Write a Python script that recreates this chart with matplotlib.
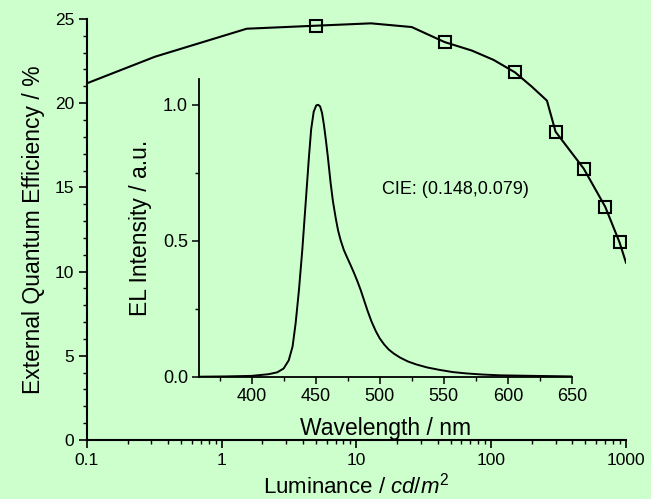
import matplotlib
matplotlib.use("Agg")
import matplotlib.pyplot as plt
from matplotlib.ticker import MultipleLocator, LogLocator, FixedLocator, NullFormatter

plt.rcParams['font.family'] = ['Liberation Sans', 'DejaVu Sans']
plt.rcParams['mathtext.fontset'] = 'custom'
plt.rcParams['mathtext.rm'] = 'Liberation Sans'
plt.rcParams['mathtext.it'] = 'Liberation Sans:italic'

# === EQE vs luminance === #
luminance = [0.1, 0.32, 1.53, 5.0, 12.8, 25.7, 45, 72, 104, 150, 200, 259, 300, 486, 701, 895, 1000]
eqe = [21.18, 22.76, 24.42, 24.60, 24.74, 24.52, 23.63, 23.12, 22.57, 21.83,
       20.98, 20.15, 18.31, 16.11, 13.85, 11.74, 10.53]
marked = [3, 6, 9, 12, 13, 14, 15]

# === EL spectrum === #
wavelength = [359, 380, 400, 413, 420, 425, 429, 432, 434.4, 437, 439.6, 442.2, 444.8,
              446.5, 448.5, 450.5, 452, 453.5, 455, 456.5, 458, 459.5, 461.7, 463.5, 465.6,
              467.5, 469.5, 472, 474.8, 477.5, 480, 482.5, 485.2, 487.8, 490.4, 493.5, 497,
              500, 503.4, 507, 511, 516, 522, 528.6, 537, 546.7, 557, 567.7, 580, 594, 620, 650]
intensity = [0, 0.001, 0.003, 0.009, 0.016, 0.03, 0.06, 0.111, 0.197, 0.32, 0.467, 0.638,
             0.81, 0.91, 0.975, 0.998, 1.0, 0.994, 0.97, 0.925, 0.87, 0.81, 0.712, 0.645, 0.585,
             0.538, 0.502, 0.466, 0.436, 0.408, 0.381, 0.352, 0.318, 0.281, 0.244, 0.204, 0.167,
             0.141, 0.119, 0.1, 0.085, 0.07, 0.056, 0.045, 0.034, 0.025, 0.017, 0.012, 0.008,
             0.005, 0.003, 0.001]
cie_text = "CIE: (0.148,0.079)"

bg = '#ccffcc'
fig = plt.figure(figsize=(6.51, 4.99), dpi=100, facecolor=bg)

ax = fig.add_axes([0.1336, 0.1182, 0.8280, 0.8438], facecolor=bg)
ax.plot(luminance, eqe, color='black', lw=1.5, marker='s', markevery=marked,
        markersize=9, markerfacecolor='none', markeredgecolor='black', markeredgewidth=1.5)
ax.set_xscale('log')
ax.set_xlim(0.1, 1000)
ax.set_ylim(0, 25)
ax.set_xticks([0.1, 1, 10, 100, 1000])
ax.set_xticklabels(['0.1', '1', '10', '100', '1000'])
ax.xaxis.set_minor_locator(LogLocator(base=10, subs=range(2, 10)))
ax.xaxis.set_minor_formatter(NullFormatter())
ax.yaxis.set_major_locator(MultipleLocator(5))
ax.yaxis.set_minor_locator(MultipleLocator(1))
ax.set_xlabel(r'Luminance / $cd/m^2$', fontsize=16, labelpad=4)
ax.set_ylabel('External Quantum Efficiency / %', fontsize=16.5, labelpad=7)
for s in ['top', 'right']:
    ax.spines[s].set_visible(False)
for s in ['left', 'bottom']:
    ax.spines[s].set_linewidth(1.5)
ax.tick_params(which='major', direction='out', length=6, width=1.2, labelsize=12.5, pad=3)
ax.tick_params(which='minor', direction='out', length=3, width=1.0)

# === Inset === #
ins = fig.add_axes([0.3057, 0.2451, 0.5729, 0.5966], facecolor='none')
ins.plot(wavelength, intensity, color='black', lw=1.4)
ins.set_xlim(359, 650)
ins.set_ylim(0, 1.095)
ins.xaxis.set_major_locator(FixedLocator([400, 450, 500, 550, 600, 650]))
ins.xaxis.set_minor_locator(MultipleLocator(25))
ins.yaxis.set_major_locator(FixedLocator([0, 0.5, 1.0]))
ins.yaxis.set_minor_locator(FixedLocator([0.25, 0.75]))
ins.set_yticklabels(['0.0', '0.5', '1.0'])
ins.set_xlabel('Wavelength / nm', fontsize=16.5, labelpad=9)
ins.set_ylabel('EL Intensity / a.u.', fontsize=16.5, labelpad=8)
for s in ['top', 'right']:
    ins.spines[s].set_visible(False)
for s in ['left', 'bottom']:
    ins.spines[s].set_linewidth(1.3)
ins.tick_params(which='major', direction='out', length=5, width=1.1, labelsize=13, pad=3)
ins.tick_params(which='minor', direction='out', length=3, width=1.0)
ins.text(501.6, 0.688, cie_text, fontsize=13, ha='left', va='center')

fig.savefig('out.png', dpi=100, facecolor=bg)
